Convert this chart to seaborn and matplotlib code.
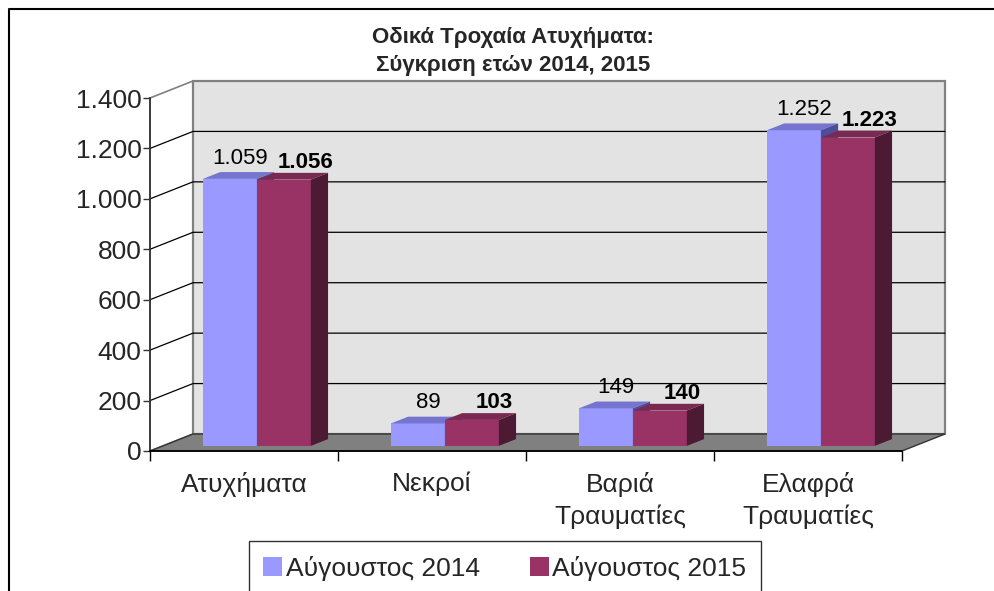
import numpy as np
import pandas as pd
import matplotlib
matplotlib.use("Agg")
import matplotlib.pyplot as plt
import seaborn as sns
from matplotlib.patches import Polygon, Patch, Rectangle
from matplotlib.lines import Line2D

# --- data ---
categories = ['Ατυχήματα', 'Νεκροί', 'Βαριά\nΤραυματίες', 'Ελαφρά\nΤραυματίες']
series = ['Αύγουστος 2014', 'Αύγουστος 2015']
values_2014 = [1059, 89, 149, 1252]
values_2015 = [1056, 103, 140, 1223]
y_ticks = [0, 200, 400, 600, 800, 1000, 1200, 1400]

# --- style ---
front_colors = ['#9999FF', '#993366']
top_colors = ['#7575CF', '#7A2952']
side_colors = ['#4D4D99', '#4D1A33']
label_weights = ['normal', 'bold']
label_dx_px = [10, 22]
label_dy_px = [15, 12]

W, H, DPI = 995, 591, 100
DEPTH_X, DEPTH_Y = 43, 17          # pixel offset front plane -> back wall
BAR_F0, BAR_F1 = 0.30, 0.70        # bar depth range (fraction of full depth)

def fmt(v):
    return f"{v:,}".replace(',', '.')

df = pd.DataFrame({
    'Κατηγορία': categories * 2,
    'Σειρά': [series[0]] * len(categories) + [series[1]] * len(categories),
    'Τιμή': values_2014 + values_2015,
})

sns.set_theme(style='white')
plt.rcParams['font.family'] = ['Liberation Sans', 'DejaVu Sans']

fig = plt.figure(figsize=(W / DPI, H / DPI), dpi=DPI)
fig.patch.set_facecolor('white')
ax = fig.add_axes([150 / W, 1 - 451 / H, 752 / W, 353 / H])

sns.barplot(data=df, x='Κατηγορία', y='Τιμή', hue='Σειρά', hue_order=series,
            palette=front_colors, width=0.574, gap=0, saturation=1,
            legend=False, ax=ax)
bars = list(ax.patches)

ax.set_xlim(-0.5, len(categories) - 0.5)
ax.set_ylim(0, 1400)

# pixel -> data conversion for the fake depth
p0 = ax.transData.transform((0, 0))
p1 = ax.transData.transform((1, 1))
sx, sy = p1 - p0

def depth(f):
    return DEPTH_X * f / sx, DEPTH_Y * f / sy

x0, x1 = -0.5, len(categories) - 0.5
ymax = y_ticks[-1]
bx, by = depth(1)

# side wall, back wall, grid, floor
ax.add_patch(Polygon([(x0, 0), (x0 + bx, by), (x0 + bx, ymax + by), (x0, ymax)],
                     closed=True, fc='white', ec='#808080', lw=1.2, clip_on=False, zorder=0.5))
ax.add_patch(Rectangle((x0 + bx, by), x1 - x0, ymax, fc='#E3E3E3', ec='#808080',
                       lw=1.6, clip_on=False, zorder=0.5))
for t in y_ticks[1:-1]:
    ax.plot([x0, x0 + bx, x1 + bx], [t, t + by, t + by], color='black', lw=0.9,
            clip_on=False, zorder=1)
ax.add_patch(Polygon([(x0, 0), (x1, 0), (x1 + bx, by), (x0 + bx, by)], closed=True,
                     fc='#808080', ec='#333333', lw=1.0, clip_on=False, zorder=1.5))

# move the bars into the middle of the depth and add top / side faces
fx, fy = depth(BAR_F0)
dx, dy = depth(BAR_F1 - BAR_F0)
n = len(categories)
for k, bar in enumerate(bars):
    s = k // n
    x, w, h = bar.get_x() + fx, bar.get_width(), bar.get_height()
    y = fy
    bar.set_xy((x, y))
    bar.set_edgecolor('none')
    bar.set_zorder(3 + s)
    bar.set_clip_on(False)
    ax.add_patch(Polygon([(x, y + h), (x + w, y + h), (x + w + dx, y + h + dy), (x + dx, y + h + dy)],
                         closed=True, fc=top_colors[s], ec='none', zorder=3 + s, clip_on=False))
    ax.add_patch(Polygon([(x + w, y), (x + w + dx, y + dy), (x + w + dx, y + h + dy), (x + w, y + h)],
                         closed=True, fc=side_colors[s], ec='none', zorder=3 + s, clip_on=False))
    ax.annotate(fmt(int(h)), (x + w / 2, y + h),
                xytext=(label_dx_px[s] * 72 / DPI, label_dy_px[s] * 72 / DPI),
                textcoords='offset points', ha='center', va='baseline', fontsize=16,
                fontweight=label_weights[s], color='black', zorder=6)

# axes styling
for side in ['top', 'right']:
    ax.spines[side].set_visible(False)
ax.spines['left'].set_color('#333333')
ax.spines['bottom'].set_color('black')
ax.spines['left'].set_zorder(2)
ax.spines['bottom'].set_zorder(2)
ax.set_yticks(y_ticks)
ax.set_yticklabels([fmt(t) for t in y_ticks])
ax.set_xticks(range(n))
ax.set_xticklabels(categories)
ax.set_xticks(np.arange(-0.5, n, 1), minor=True)
ax.tick_params(axis='y', left=True, length=5, width=1, color='#333333', pad=1, labelsize=19)
ax.tick_params(axis='x', which='major', length=0, pad=15, labelsize=19)
ax.tick_params(axis='x', which='minor', bottom=True, length=7, width=1, color='black', direction='out')
for lbl in ax.get_xticklabels():
    lbl.set_linespacing(1.38)
ax.set_xlabel('')
ax.set_ylabel('')

# title
fig.text(513 / W, 1 - 43 / H, 'Οδικά Τροχαία Ατυχήματα:', ha='center', va='baseline',
         fontsize=16, fontweight='bold')
fig.text(513 / W, 1 - 71 / H, 'Σύγκριση ετών 2014, 2015', ha='center', va='baseline',
         fontsize=16, fontweight='bold')

# legend
handles = [Patch(facecolor=c, edgecolor='none') for c in front_colors]
leg = fig.legend(handles, series, loc='upper center', bbox_to_anchor=(505 / W, 1 - 541 / H),
                 ncol=2, frameon=True, fancybox=False, fontsize=19, handlelength=0.7,
                 handleheight=0.7, handletextpad=0.15, columnspacing=1.9, borderpad=0.55,
                 borderaxespad=0, edgecolor='black')
leg.get_frame().set_linewidth(1.0)

# chart border (left and top visible)
fig.add_artist(Line2D([9 / W, 9 / W, 1], [0, 1 - 9 / H, 1 - 9 / H],
                      transform=fig.transFigure, color='black', lw=1.5))

fig.savefig('out.png', dpi=DPI)
